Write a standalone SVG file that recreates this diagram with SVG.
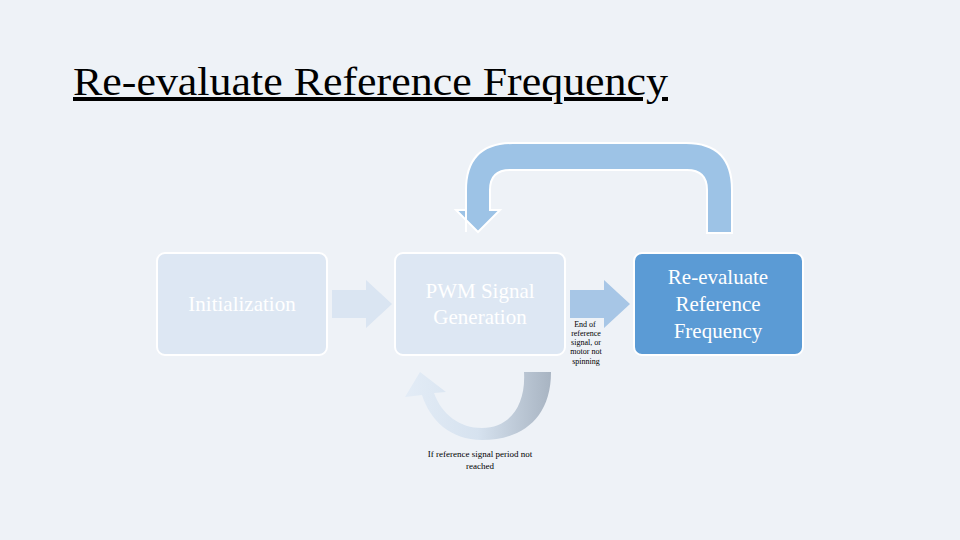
<svg xmlns="http://www.w3.org/2000/svg" width="960" height="540" viewBox="0 0 960 540">
<defs>
<style>
.box{stroke:#fff;stroke-width:2}
.t{font-family:"Liberation Serif",serif;text-anchor:middle}
</style>
<linearGradient id="g" x1="0" y1="0" x2="1" y2="0">
<stop offset="0" stop-color="#e3ecf6"/><stop offset="0.5" stop-color="#d6e2ef"/><stop offset="1" stop-color="#a8b4c2"/>
</linearGradient>
</defs>
<rect width="960" height="540" fill="#eef2f7"/>
<text x="73" y="95" font-family="Liberation Serif,serif" font-size="40" fill="#000" text-decoration="underline" textLength="595" lengthAdjust="spacingAndGlyphs">Re-evaluate Reference Frequency</text>
<g id="connectors">
<path d="M466,232 V190 Q466,143 513,143 H686 Q732,143 732,190 V233 H707 V190 Q707,170 687,170 H510 Q490,170 490,190 V210 H500 L478,232 L456,210 H466 Z" fill="#9dc3e6" stroke="#fff" stroke-width="2"/>
<path d="M332,290 H366 V280 L392,304 L366,328 V318 H332 Z" fill="#dae5f2"/>
<path d="M570,290 H604 V280 L630,304 L604,328 V318 H570 Z" fill="#a7c6e6"/>
<path d="M551,372 C551,420 520,440 482,440 C450,440 430,420 422,395 L405,397 L420,372 L446,392 L434,393 C442,415 460,428 482,428 C510,428 526,405 524,372 Z" fill="url(#g)"/>
<text class="t" font-size="8" x="585" y="327">End of</text>
<text class="t" font-size="8" x="586" y="336">reference</text>
<text class="t" font-size="8" x="586" y="345">signal, or</text>
<text class="t" font-size="8" x="586" y="354">motor not</text>
<text class="t" font-size="8" x="586" y="364">spinning</text>
<text class="t" font-size="9" x="480" y="457">If reference signal period not</text>
<text class="t" font-size="9" x="480" y="469">reached</text>
</g>
<g id="n1"><rect class="box" x="157" y="253" width="170" height="102" rx="8" fill="#dde7f3"/>
<text class="t" font-size="21" fill="#fff" x="242" y="311">Initialization</text></g>
<g id="n2"><rect class="box" x="395" y="253" width="170" height="102" rx="8" fill="#dde7f3"/>
<text class="t" font-size="21" fill="#fff" x="480" y="298">PWM Signal</text>
<text class="t" font-size="21" fill="#fff" x="480" y="324">Generation</text></g>
<g id="n3"><rect class="box" x="634" y="253" width="169" height="102" rx="8" fill="#5b9bd5"/>
<text class="t" font-size="21" fill="#fff" x="718" y="284">Re-evaluate</text>
<text class="t" font-size="21" fill="#fff" x="718" y="311">Reference</text>
<text class="t" font-size="21" fill="#fff" x="718" y="338">Frequency</text></g>
</svg>
